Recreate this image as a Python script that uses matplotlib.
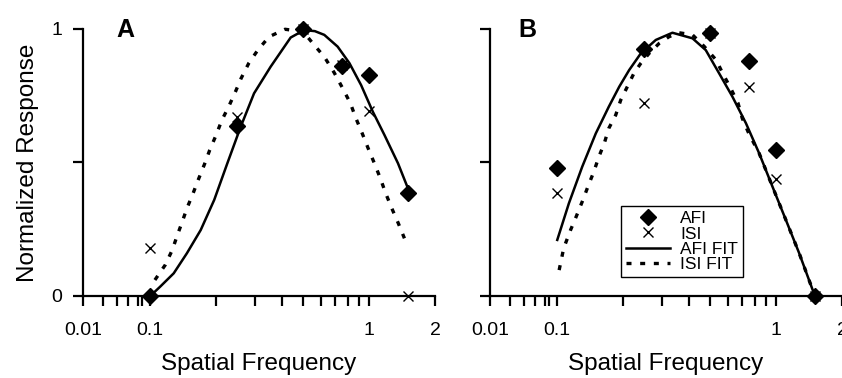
import matplotlib
matplotlib.use("Agg")
import matplotlib.pyplot as plt
import numpy as np
from matplotlib.ticker import FixedLocator, NullFormatter

plt.rcParams['font.family'] = ['Liberation Sans', 'DejaVu Sans']

# measured points (spatial frequency, normalized response)
freq = [0.1, 0.25, 0.5, 0.75, 1.0, 1.5]
afi_a = [0.0, 0.637, 1.0, 0.861, 0.828, 0.385]
isi_a = [0.179, 0.672, 1.0, 0.865, 0.694, 0.0]
afi_b = [0.478, 0.924, 0.986, 0.881, 0.547, 0.0]
isi_b = [0.385, 0.722, 0.986, 0.782, 0.437, 0.0]

# fitted curves
afi_fit_a_x = [0.1, 0.111, 0.128, 0.147, 0.17, 0.196, 0.225, 0.259, 0.298, 0.355,
               0.438, 0.505, 0.565, 0.624, 0.718, 0.813, 0.919, 1.04, 1.175,
               1.355, 1.505]
afi_fit_a_y = [0.0, 0.035, 0.085, 0.16, 0.247, 0.36, 0.497, 0.634, 0.759, 0.859,
               0.968, 0.996, 0.992, 0.978, 0.934, 0.872, 0.79, 0.69, 0.603,
               0.497, 0.403]
isi_fit_a_x = [0.105, 0.117, 0.126, 0.133, 0.14, 0.147, 0.157, 0.166, 0.177, 0.187,
               0.2, 0.212, 0.229, 0.245, 0.26, 0.282, 0.31, 0.349, 0.413, 0.5,
               0.561, 0.624, 0.693, 0.757, 0.821, 0.87, 0.93, 0.99, 1.057,
               1.125, 1.19, 1.27, 1.36, 1.45]
isi_fit_a_y = [0.06, 0.116, 0.172, 0.228, 0.278, 0.328, 0.385, 0.437, 0.494, 0.547,
               0.603, 0.657, 0.712, 0.765, 0.815, 0.872, 0.921, 0.971, 0.999, 0.99,
               0.94, 0.896, 0.836, 0.778, 0.722, 0.666, 0.609, 0.553, 0.497,
               0.441, 0.385, 0.328, 0.272, 0.216]
afi_fit_b_x = [0.1, 0.113, 0.13, 0.15, 0.172, 0.192, 0.213, 0.241, 0.282, 0.336,
               0.415, 0.477, 0.549, 0.632, 0.728, 0.837, 0.963, 1.108, 1.275,
               1.47, 1.53]
afi_fit_b_y = [0.21, 0.347, 0.484, 0.609, 0.709, 0.784, 0.846, 0.909, 0.959, 0.986,
               0.965, 0.921, 0.834, 0.746, 0.647, 0.534, 0.409, 0.285, 0.16,
               0.022, 0.0]
isi_fit_b_x = [0.102, 0.107, 0.115, 0.122, 0.13, 0.139, 0.147, 0.155, 0.164, 0.172,
               0.185, 0.195, 0.209, 0.224, 0.241, 0.263, 0.292, 0.324, 0.36,
               0.415, 0.47, 0.532, 0.57, 0.62, 0.67, 0.70, 0.75, 0.837, 0.963,
               1.108, 1.275, 1.47, 1.53]
isi_fit_b_y = [0.097, 0.179, 0.247, 0.297, 0.353, 0.416, 0.466, 0.522, 0.572, 0.628,
               0.678, 0.734, 0.784, 0.834, 0.872, 0.909, 0.946, 0.971, 0.986,
               0.978, 0.934, 0.884, 0.834, 0.778, 0.722, 0.666, 0.609, 0.534,
               0.409, 0.285, 0.16, 0.022, 0.0]

xticks = [0.01, 0.1, 1, 2]
xticklabels = ['0.01', '0.1', '1', '2']
minor_ticks = [0.02, 0.032, 0.047, 0.065, 0.076,
               0.2, 0.3, 0.4, 0.5, 0.6, 0.7, 0.8, 0.9]

K = 67.0 / 218.0  # the decade below 0.1 is squeezed


def fwd(x):
    lx = np.log10(np.clip(np.asarray(x, float), 1e-9, None))
    return np.where(lx >= -1, lx, -1 + (lx + 1) * K)


def inv(y):
    y = np.asarray(y, float)
    return np.where(y >= -1, 10.0 ** y, 10.0 ** (-1 + (y + 1) / K))


fig = plt.figure(figsize=(8.42, 3.78), dpi=100)
W, H = 842.0, 378.0
axA = fig.add_axes([83 / W, 1 - 296 / H, 352 / W, 267 / H])
axB = fig.add_axes([490 / W, 1 - 296 / H, 352 / W, 267 / H])


def style(ax, show_y):
    ax.set_xscale('function', functions=(fwd, inv))
    ax.set_xlim(0.01, 2.0)
    ax.set_ylim(0, 1)
    ax.xaxis.set_major_locator(FixedLocator(xticks))
    ax.set_xticklabels(xticklabels)
    ax.xaxis.set_minor_locator(FixedLocator(minor_ticks))
    ax.xaxis.set_minor_formatter(NullFormatter())
    ax.set_yticks([0, 0.5, 1])
    if show_y:
        ax.set_yticklabels(['0', '', '1'])
    else:
        ax.set_yticklabels([])
    for s in ['top', 'right']:
        ax.spines[s].set_visible(False)
    for s in ['left', 'bottom']:
        ax.spines[s].set_linewidth(1.6)
    ax.tick_params(which='both', direction='out', length=7, width=1.6,
                   labelsize=14)
    ax.tick_params(axis='x', which='both', pad=11.5)
    ax.tick_params(axis='y', pad=8)
    ax.set_xlabel('Spatial Frequency', fontsize=17.5, labelpad=10.5)


def draw(ax, afi, isi, fx1, fy1, fx2, fy2):
    ax.plot(fx1, fy1, color='black', lw=1.8, solid_joinstyle='round',
            clip_on=False, label='AFI FIT', zorder=3)
    ax.plot(fx2, fy2, color='black', lw=2.4, linestyle=(0, (1.5, 2.6)),
            clip_on=False, label='ISI FIT', zorder=3)
    ax.plot(freq, afi, linestyle='none', marker='D', ms=8, color='black',
            clip_on=False, label='AFI', zorder=4)
    ax.plot(freq, isi, linestyle='none', marker='x', ms=7.5, mew=1.0,
            color='black', clip_on=False, label='ISI', zorder=5)


style(axA, True)
style(axB, False)
draw(axA, afi_a, isi_a, afi_fit_a_x, afi_fit_a_y, isi_fit_a_x, isi_fit_a_y)
draw(axB, afi_b, isi_b, afi_fit_b_x, afi_fit_b_y, isi_fit_b_x, isi_fit_b_y)

axA.set_ylabel('Normalized Response', fontsize=17.5, labelpad=9)

fig.text(125 / W, 1 - 30 / H, 'A', fontsize=18, fontweight='bold',
         ha='center', va='center')
fig.text(527 / W, 1 - 30 / H, 'B', fontsize=18, fontweight='bold',
         ha='center', va='center')

handles, labels = axB.get_legend_handles_labels()
order = [2, 3, 0, 1]
leg = axB.legend([handles[i] for i in order], [labels[i] for i in order],
                 loc='upper left', bbox_to_anchor=(0.372, 0.337),
                 borderaxespad=0, fontsize=12.5, frameon=True, fancybox=False,
                 edgecolor='black', framealpha=1, labelspacing=0.0,
                 handlelength=2.5, handletextpad=0.6, borderpad=0.3)
leg.get_frame().set_linewidth(1.0)

fig.savefig('out.png', dpi=100)
